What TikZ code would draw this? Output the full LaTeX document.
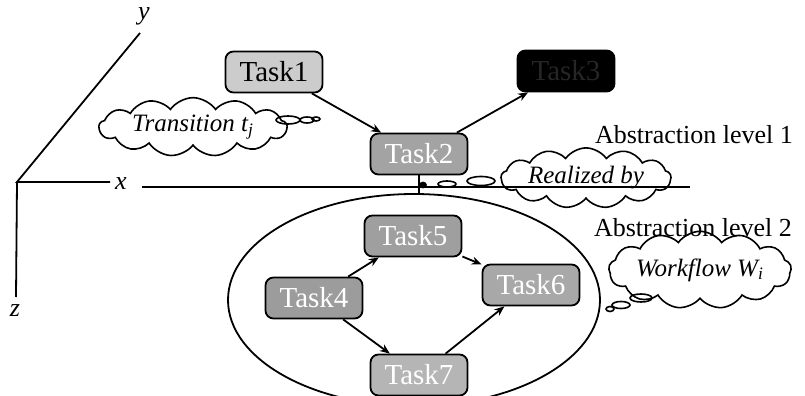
\documentclass[tikz,border=0pt]{standalone}
\usepackage{fontspec}
\setmainfont{Liberation Serif}
\usetikzlibrary{shapes.geometric, shapes.symbols, arrows.meta, positioning}

\begin{document}
\begin{tikzpicture}[
    x=0.5pt, y=-0.5pt,
    font=\fontsize{13}{15}\selectfont,
    task/.style={draw, line width=0.9pt, rounded corners=4pt, minimum height=20.5pt, minimum width=48.5pt, inner sep=1pt, fill=#1, font=\fontsize{14.5}{16}\selectfont},
    thought/.style={cloud, draw, line width=0.8pt, cloud puffs=13, cloud puff arc=110, inner sep=0pt, aspect=#1, font=\fontsize{12.5}{14}\selectfont\itshape},
    puff/.style={ellipse, draw, line width=0.8pt, inner sep=0pt},
    arrow/.style={-{Stealth[length=5pt,width=4pt]}, line width=0.9pt},
    axis/.style={line width=0.9pt}
]
\useasboundingbox (0,0) rectangle (805,396);

% axes
\coordinate (o) at (17,182);
\coordinate (ytip) at (140,33);
\coordinate (xtip) at (110,182);
\coordinate (ztip) at (16,297);
\node (ylab) at (144,16) {\textit{y}};
\node (xlab) at (121,184) {\textit{x}};
\node (zlab) at (15,311) {\textit{z}};
\draw[axis] (ytip) -- (o) -- (xtip);
\draw[axis] (o) -- (ztip);

% boundary between the two levels
\coordinate (l0) at (142,187);
\coordinate (l1) at (690,187);
\draw[axis] (l0) -- (l1);

\node (lev1) at (694,135) {Abstraction level 1};
\node (lev2) at (693,228) {Abstraction level 2};

% workflow of level 2
\node[ellipse, draw, line width=0.9pt, minimum width=186pt, minimum height=106pt] (wf) at (414,300) {};

% tasks
\node[task=gray!40] (t1) at (274,72) {Task1};
\node[task=gray!72, text=white] (t2) at (419,154) {Task2};
\node[task=black, text=gray!30!black] (t3) at (566,71) {Task3};
\node[task=gray!75, text=white] (t5) at (413,236) {Task5};
\node[task=gray!78, text=white] (t4) at (314,298) {Task4};
\node[task=gray!68, text=white] (t6) at (531,285) {Task6};
\node[task=gray!58, text=white] (t7) at (419,375) {Task7};

\draw[arrow] (t1) -- (t2);
\draw[arrow] (t2) -- (t3);
\draw[arrow] (t4) -- (t5);
\draw[arrow] (t5) -- (t6);
\draw[arrow] (t4) -- (t7);
\draw[arrow] (t7) -- (t6);
\draw[line width=0.9pt] (t2.south) -- (t2.south |- wf.north);

% thought clouds
\node[thought=4.5, minimum width=94pt, minimum height=21pt] (ctr) at (193,127) {Transition t\textsubscript{j}};
\node[puff, minimum width=12pt, minimum height=4pt] (ptr1) at (288,120) {};
\node[puff, minimum width=7pt, minimum height=3pt] (ptr2) at (307,120) {};
\node[puff, minimum width=4pt, minimum height=2pt] (ptr3) at (316,119) {};

\node[thought=4, minimum width=85pt, minimum height=21pt] (crb) at (586,178) {Realized by};
\node[puff, minimum width=14pt, minimum height=4.5pt] (prb1) at (481,181) {};
\node[puff, minimum width=9pt, minimum height=3pt] (prb2) at (447,184) {};
\node[puff, fill, minimum width=3pt, minimum height=2.5pt] (prb3) at (423,185) {};

\node[thought=3.2, minimum width=88pt, minimum height=27pt] (cwf) at (700,270) {Workflow W\textsubscript{i}};
\node[puff, minimum width=11pt, minimum height=4pt] (pwf1) at (641,298) {};
\node[puff, minimum width=9pt, minimum height=3.5pt] (pwf2) at (621,305) {};
\node[puff, minimum width=4pt, minimum height=2.5pt] (pwf3) at (610,309) {};

\end{tikzpicture}
\end{document}
